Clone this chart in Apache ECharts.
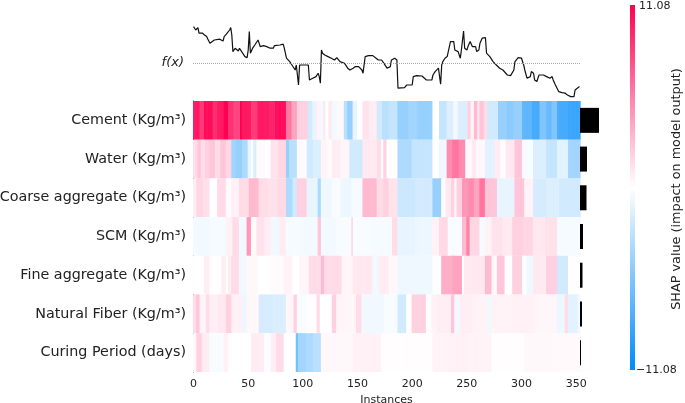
<!DOCTYPE html>
<html>
<head>
<meta charset="utf-8">
<script src="https://cdn.jsdelivr.net/npm/echarts@6/dist/echarts.min.js"></script>
<style>
  html, body { margin: 0; padding: 0; background: #fff; }
  #chart { width: 685px; height: 403px; }
</style>
</head>
<body>
<div id="chart"></div>
<script>
// feature names, top to bottom
var features = ['Cement (Kg/m³)', 'Water (Kg/m³)', 'Coarse aggregate (Kg/m³)', 'SCM (Kg/m³)',
  'Fine aggregate (Kg/m³)', 'Natural Fiber (Kg/m³)', 'Curing Period (days)']

// SHAP values per instance, read as runs of [instances, value]
var cementRuns = [[6, 10], [4, 8.5], [8, 10.5], [4, 9], [6, 10], [4, 11], [5, 9], [6, 8], [2, 11], [8, 10], [6, 8.5], [10, 10], [6, 9.5], [10, 10.5],
  [5, 6], [5, 4], [10, 2], [4, -2], [4, -1], [3, 0.5], [3, -0.5], [2, 1], [3, 0], [3, 1], [5, -0.5], [6, 0.3], [3, -3], [5, -4.5],
  [4, -1], [5, 0], [6, 1.2], [7, 0.8], [5, -2], [6, -3], [8, -2.5], [10, -4.5], [8, -4], [14, -4.5], [6, 0], [7, -2.5],
  [6, -1.5], [4, -0.5], [9, -1.5], [3, 2], [3, 0.5], [3, 3], [2, 1], [4, 2.5], [3, 1.5], [10, -2], [8, -4.5], [6, -5], [8, -4.5],
  [9, -7], [7, -8], [6, -5.5], [5, -6.5], [5, -5.5], [10, -8], [11, -8.5]]
var waterRuns = [[4, 1.5], [3, 2.5], [4, 1.5], [4, 2], [5, 2.5], [5, 1.5], [5, 2.5], [5, 1.8], [4, -4], [6, -4.5], [5, -3.5],
  [3, -1], [2, 0], [3, -1.5], [2, 0.2], [6, 0.2], [5, 0], [7, 1.2], [7, 1.8], [3, -4.5], [7, -3], [9, 0.2], [6, -2], [7, -1.5],
  [5, 0.5], [5, 0.2], [8, 0.8], [8, 0.4], [12, -2], [13, 0.9], [4, 1.5], [2, 0], [3, 2], [10, 0], [13, -3.5], [19, -2.5],
  [6, 0], [7, -0.7], [5, 5], [6, 6], [6, 5], [6, 0.3], [4, 1], [8, 0.3], [9, -1.2], [5, 0.8], [5, 0.2], [8, 1], [7, 2.5],
  [10, -0.3], [12, -1.5], [10, -2.5], [10, -1.2], [11, -4]]
var coarseRuns = [[3, 0.8], [6, 1.8], [6, 1.4], [7, 0], [8, 1.5], [5, 0.2], [7, 0.6], [9, 1.5], [9, 3], [8, 1.5], [9, 1.3], [8, 1.6],
  [6, -3.5], [4, -2], [9, 2], [10, -1], [3, -3.5], [10, -0.7], [8, -0.3], [10, -0.8], [10, -0.4], [13, 3], [6, 1.5], [5, 2], [8, 1.2],
  [16, -2.2], [16, -1.9], [8, -4.5], [4, 0.2], [5, 1], [3, 2], [2, 0.3], [5, 2], [6, 4.5], [5, 5], [5, 4], [5, 6], [11, 2.5],
  [16, -1], [9, 2.5], [8, 0.5], [12, -1.8], [12, -1.5], [19, -2]]
var scmRuns = [[15, -0.5], [15, -0.4], [6, 0.6], [6, 1.5], [7, -0.6], [4, 4.5], [5, 0.2], [7, 1.2], [6, 0.8], [8, -0.6], [6, 0.8],
  [15, -0.4], [14, -0.5], [3, 2.5], [14, -0.5], [14, -0.3], [1, 2.5], [18, -0.3], [18, -0.4], [5, 1.5], [16, -1], [16, -0.8],
  [6, 0.6], [8, 1.6], [13, -0.3], [4, 3], [3, 5.5], [9, 1.8], [5, -0.4], [6, 0.5], [10, 1.2], [9, 0.9], [10, 2], [9, 1.8],
  [11, 1], [11, 1.3], [21, -0.4]]
var fineRuns = [[10, 0], [5, 0.7], [11, 0.1], [4, 0.8], [2, 0], [3, 0.8], [7, 1.5], [7, -0.6], [10, 0.3], [12, 0], [12, 0.2],
  [8, 0.5], [6, 0], [9, 0.4], [11, 1.5], [3, 3], [16, 1.5], [10, 0.4], [18, 1], [6, -0.6], [9, 0.8], [8, 0.3], [32, -0.7],
  [8, 0.1], [10, 3.5], [9, 4], [2, 0], [19, 1], [6, 3], [5, 0.3], [7, 2.5], [7, 0], [9, 2], [4, 0], [6, -0.7], [12, 0.9],
  [10, 2], [10, -2], [11, 0.1]]
var fiberRuns = [[3, 1.5], [3, 2.5], [6, 0.5], [3, 1.5], [8, 0.7], [7, 1], [5, 2], [10, 0.6], [4, -0.8], [11, 0.3], [13, -1.8], [12, -1.6],
  [7, 0.4], [3, 2], [9, -0.3], [9, 0.1], [3, 1.5], [11, 0], [4, 2], [18, 0.4], [5, 1.5], [21, -0.6], [12, -0.3], [8, -2], [5, 0],
  [13, 2], [5, 0.1], [5, 0.5], [13, 0.8], [3, 2.5], [5, -0.5], [12, 0.7], [13, 0.5], [4, -0.6], [20, 0.5], [20, 0.6], [20, 0.4],
  [7, -0.8], [3, 1.5], [9, -1.2], [2, -0.5]]
var curingRuns = [[3, 0.3], [5, 2], [7, 0.8], [13, -0.3], [4, 0.6], [21, 0], [12, 0.8], [6, -0.2], [5, 0.7], [7, 1.5], [11, 0],
  [2, -6], [7, -4], [7, -3.5], [7, -3], [29, 0.3], [26, 0.6], [15, 0.1], [32, 0.1], [16, 0.5], [16, 0.6], [22, 0.5], [30, 0.1],
  [25, 0.3], [26, 0.25]]

// model output f(x) as [instance, value]
var fxPoints = [[0, 53.2], [1, 52.4], [2, 51.5], [4, 52.7], [5, 49.9], [6, 50.7], [8, 50], [10, 49], [12, 48.2], [13, 47], [15, 44.9],
  [16, 45.4], [19, 46.5], [24, 46.9], [27, 46], [28, 48.2], [30, 49.4], [31, 49.9], [33, 51.5], [34, 52.7], [35, 49], [36, 40.7],
  [38, 42.4], [39, 41.5], [41, 41], [42, 42.4], [44, 40.7], [45, 39.9], [47, 38.2], [49, 37.7], [50, 41.5], [51, 50.7], [52, 39.9],
  [54, 42.4], [56, 44], [57, 44.9], [59, 46.5], [61, 43.2], [64, 43.7], [67, 43.2], [70, 42.4], [73, 42.4], [74, 43.7], [79, 44],
  [82, 44.4], [83, 42.4], [85, 37.4], [88, 35.7], [90, 34], [91, 33.2], [93, 31.5], [94, 34], [96, 24], [97, 34], [105, 34],
  [106, 26.5], [109, 27.4], [112, 28.2], [114, 29.9], [115, 28.2], [116, 24.9], [117, 41.5], [118, 39.9], [120, 39], [123, 38.2],
  [126, 37.4], [129, 36.5], [131, 37.7], [134, 35.7], [135, 36], [138, 34.9], [141, 32.4], [143, 31.5], [146, 32.4], [148, 33.2],
  [149, 32.4], [151, 33.2], [152, 34], [154, 31.5], [155, 29.9], [157, 38.2], [160, 38.7], [164, 38.7], [167, 37.4], [169, 36.5],
  [170, 35.7], [172, 36.5], [174, 34.9], [175, 34], [177, 32.4], [178, 31.5], [180, 33.2], [181, 36.5], [184, 37.4], [186, 36.5],
  [187, 22.4], [193, 22.7], [195, 24], [200, 24], [201, 28.2], [204, 28.7], [209, 28.5], [210, 28.2], [213, 26.5], [218, 26.5],
  [219, 29], [221, 30.7], [222, 29.9], [224, 32.4], [225, 31.5], [226, 24.4], [227, 34], [228, 35.7], [230, 37.4], [232, 38.2],
  [233, 40.7], [235, 45.7], [236, 46.5], [238, 45.7], [239, 41.5], [242, 40.7], [244, 37.4], [245, 41.5], [247, 51], [248, 42.4],
  [250, 41.5], [251, 43.2], [253, 45.7], [255, 43.2], [256, 42.4], [258, 43.2], [259, 40.7], [261, 41.5], [262, 44.9], [264, 47.4],
  [267, 47.7], [268, 39.9], [271, 38.2], [274, 35.7], [277, 34], [280, 32.4], [283, 31.5], [287, 29], [290, 28.7], [293, 31.5],
  [294, 35.7], [297, 37.7], [300, 37.4], [302, 34], [303, 31.5], [305, 27.4], [306, 28.2], [308, 28.2], [309, 30.7], [311, 29.9],
  [312, 26.5], [314, 25.7], [316, 29], [320, 29], [323, 28.2], [326, 27.4], [328, 28.2], [329, 26.5], [331, 24], [332, 23.2],
  [334, 20.7], [337, 20.2], [340, 19.9], [342, 19], [343, 19], [345, 18.2], [346, 17.4], [348, 18.2], [349, 21.5], [351, 22.4],
  [353, 23.2]]
var baseValue = 35

// mean |SHAP| per feature (right-hand bars)
var meanAbs = [7.6, 2.8, 2.6, 1.2, 1.0, 0.8, 0.4]
var colorMax = 11.08
var nInstances = 354

// shap red_blue colormap (low -> mid -> high)
var cmap = ['#008bfb', '#ffffff', '#ff0052']

function expandRuns (runs) {
  var out = []
  runs.forEach(function (r) {
    for (var k = 0; k < r[0]; k++) out.push(r[1])
  })
  return out
}

var allRuns = [cementRuns, waterRuns, coarseRuns, scmRuns, fineRuns, fiberRuns, curingRuns]
var heatData = []
allRuns.forEach(function (runs, row) {
  expandRuns(runs).forEach(function (v, i) {
    if (i < nInstances) heatData.push([i, row, v])
  })
})
var instances = []
for (var i = 0; i < nInstances; i++) instances.push(String(i))

// cells drawn slightly wider than a band so neighbouring cells don't leave seams
function renderCell (params, api) {
  var p = api.coord([api.value(0), api.value(1)])
  var s = api.size([1, 1])
  return {
    type: 'rect',
    shape: { x: p[0] - s[0] / 2, y: p[1] - s[1] / 2, width: s[0] + 0.7, height: s[1] },
    style: { fill: api.visual('color') }
  }
}

var chart = echarts.init(document.getElementById('chart'), null, { renderer: 'canvas' })
chart.setOption({
  animation: false,
  textStyle: { fontFamily: 'DejaVu Sans' },
  grid: [
    { left: 193, top: 23, width: 387, height: 78, outerBoundsMode: 'none' },
    { left: 193, top: 101, width: 387, height: 271, outerBoundsMode: 'none' },
    { left: 580, top: 101, width: 25, height: 271, outerBoundsMode: 'none' }
  ],
  xAxis: [
    { gridIndex: 0, type: 'value', min: -0.5, max: nInstances - 0.5, show: false },
    {
      gridIndex: 1,
      type: 'category',
      data: instances,
      axisLine: { show: false },
      axisTick: {
        alignWithLabel: true,
        length: 4,
        interval: function (idx) { return idx % 50 === 0 },
        lineStyle: { color: '#333' }
      },
      axisLabel: {
        interval: function (idx) { return idx % 50 === 0 },
        color: '#222',
        fontSize: 11,
        margin: 7
      },
      name: 'Instances',
      nameLocation: 'middle',
      nameGap: 21,
      nameTextStyle: { color: '#222', fontSize: 11 }
    },
    { gridIndex: 2, type: 'value', min: 0, max: 10, show: false }
  ],
  yAxis: [
    { gridIndex: 0, type: 'value', min: 16, max: 55, show: false },
    {
      gridIndex: 1,
      type: 'category',
      data: features,
      inverse: true,
      axisLine: { show: true, lineStyle: { color: '#222', width: 1 } },
      axisTick: { alignWithLabel: true, length: 4, lineStyle: { color: '#222' } },
      axisLabel: { color: '#222', fontSize: 14.3, margin: 7 }
    },
    { gridIndex: 2, type: 'category', data: features, inverse: true, show: false }
  ],
  visualMap: {
    type: 'continuous',
    show: false,
    seriesIndex: 1,
    dimension: 2,
    min: -colorMax,
    max: colorMax,
    inRange: { color: cmap }
  },
  graphic: [
    {
      type: 'rect', x: 630, y: 5,
      shape: { width: 5, height: 365 },
      style: {
        fill: new echarts.graphic.LinearGradient(0, 0, 0, 1, [
          { offset: 0, color: cmap[2] }, { offset: 0.5, color: cmap[1] }, { offset: 1, color: cmap[0] }
        ])
      }
    },
    { type: 'text', x: 639, y: 6, style: { text: '11.08', fill: '#222', font: '11px DejaVu Sans', verticalAlign: 'middle' } },
    { type: 'text', x: 636, y: 370, style: { text: '\u221211.08', fill: '#222', font: '11px DejaVu Sans', verticalAlign: 'middle' } },
    {
      type: 'text', x: 677, y: 189, rotation: Math.PI / 2,
      style: { text: 'SHAP value (impact on model output)', fill: '#222', font: '12.8px DejaVu Sans', align: 'center', verticalAlign: 'middle' }
    },
    {
      type: 'text', x: 184, y: 63,
      style: { text: 'f(x)', fill: '#222', font: 'italic 13px DejaVu Sans', align: 'right', verticalAlign: 'middle' }
    }
  ],
  series: [
    {
      type: 'line',
      xAxisIndex: 0,
      yAxisIndex: 0,
      data: fxPoints,
      showSymbol: false,
      lineStyle: { color: '#111', width: 1.2 },
      markLine: {
        silent: true,
        symbol: 'none',
        label: { show: false },
        lineStyle: { color: '#aaa', type: 'dotted', width: 1 },
        data: [{ yAxis: baseValue }]
      }
    },
    {
      type: 'custom',
      xAxisIndex: 1,
      yAxisIndex: 1,
      data: heatData,
      encode: { x: 0, y: 1 },
      renderItem: renderCell
    },
    {
      type: 'bar',
      xAxisIndex: 2,
      yAxisIndex: 2,
      data: meanAbs,
      barWidth: 25,
      itemStyle: { color: '#000' }
    }
  ]
})
</script>
</body>
</html>
